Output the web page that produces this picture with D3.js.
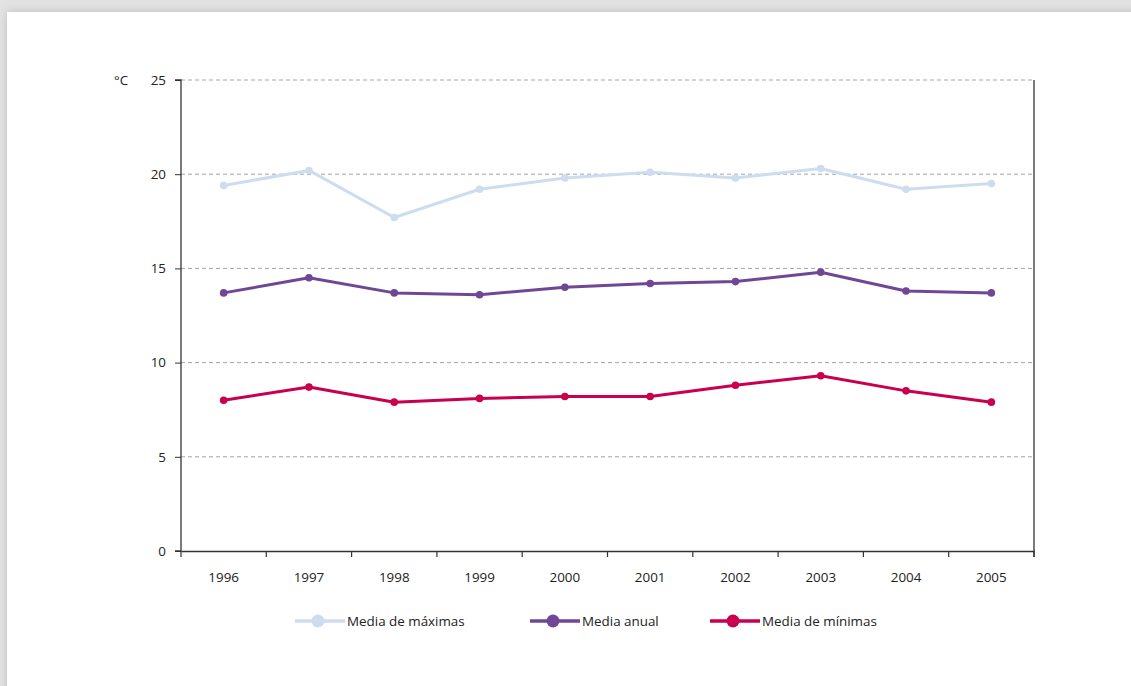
<!DOCTYPE html>
<html><head><meta charset="utf-8">
<script src="https://cdn.jsdelivr.net/npm/d3@7/dist/d3.min.js"></script>
<style>
html,body{margin:0;padding:0;background:#fff;}
svg{display:block;font-family:"Open Sans","Noto Sans",sans-serif;}
</style></head><body>
<svg id="c" width="1131" height="686"></svg>
<script>
const years = ["1996","1997","1998","1999","2000","2001","2002","2003","2004","2005"];
const mediaMaximas = [19.4,20.2,17.7,19.2,19.8,20.1,19.8,20.3,19.2,19.5];
const mediaAnual = [13.7,14.5,13.7,13.6,14.0,14.2,14.3,14.8,13.8,13.7];
const mediaMinimas = [8.0,8.7,7.9,8.1,8.2,8.2,8.8,9.3,8.5,7.9];
const yTicks = [0,5,10,15,20,25];
const seriesNames = ["Media de máximas","Media anual","Media de mínimas"];
const seriesColors = ["#cddcee","#704795","#c8004f"];

const svg = d3.select("#c");
const defs = svg.append("defs");
const f = defs.append("filter").attr("id","sh").attr("x","-5%").attr("y","-5%").attr("width","110%").attr("height","110%");
f.append("feGaussianBlur").attr("stdDeviation",4);
svg.append("rect").attr("width",1131).attr("height",686).attr("fill","#e2e2e2");
svg.append("rect").attr("x",7).attr("y",12).attr("width",1140).attr("height",700).attr("fill","#bdbdbd").attr("filter","url(#sh)");
svg.append("rect").attr("x",7).attr("y",12).attr("width",1140).attr("height",700).attr("fill","#fff");

const L=181, R=1034, T=80, B=551;
const FS = 13.4;
const x = d3.scaleBand().domain(years).range([L,R]);
const y = d3.scaleLinear().domain([0,25]).range([B,T]);

// grid
svg.append("g").selectAll("line").data(yTicks.filter(d=>d>0)).join("line")
  .attr("x1",L).attr("x2",R).attr("y1",d=>y(d)).attr("y2",d=>y(d))
  .attr("stroke","#a6a6a6").attr("stroke-dasharray","4,3").attr("stroke-width",1);

// y axis
const ya = svg.append("g").attr("transform",`translate(${L},0)`)
  .call(d3.axisLeft(y).tickValues(yTicks).tickSize(6).tickPadding(9));
ya.select(".domain").attr("stroke","#333").attr("stroke-width",1.3).attr("d",`M-6,${B}H0V${T}H-6`);
ya.selectAll(".tick line").attr("stroke","#333");
ya.selectAll("text").attr("font-size",FS).attr("fill","#222").attr("font-family","Open Sans, Noto Sans, sans-serif");

// right line
svg.append("line").attr("x1",R).attr("x2",R).attr("y1",T).attr("y2",B+6).attr("stroke","#333").attr("stroke-width",1.3);

// x axis
const xa = svg.append("g").attr("transform",`translate(0,${B})`)
  .call(d3.axisBottom(x).tickSize(0).tickPadding(21));
xa.select(".domain").attr("stroke","#333").attr("stroke-width",1.3);
xa.selectAll("text").attr("font-size",FS).attr("fill","#222").attr("font-family","Open Sans, Noto Sans, sans-serif");
xa.selectAll("line.bt").data(years.map(d=>x(d)).concat([R])).join("line").attr("class","bt")
  .attr("x1",d=>d).attr("x2",d=>d).attr("y1",0).attr("y2",6).attr("stroke","#333").attr("stroke-width",1.2);

svg.append("text").attr("x",114).attr("y",y(25)+5).attr("font-size",FS).attr("fill","#222").text("°C");

const data = [mediaMaximas, mediaAnual, mediaMinimas];
const line = d3.line().x((d,i)=>x(years[i])+x.bandwidth()/2).y(d=>y(d));
data.forEach((vals,k)=>{
  const g = svg.append("g");
  g.append("path").datum(vals).attr("d",line).attr("fill","none").attr("stroke",seriesColors[k]).attr("stroke-width",3).attr("stroke-linejoin","round");
  g.selectAll("circle").data(vals).join("circle")
    .attr("cx",(d,i)=>x(years[i])+x.bandwidth()/2).attr("cy",d=>y(d)).attr("r",3.8).attr("fill",seriesColors[k]);
});

// legend
const legX = [295,530,710];
const ly = 621;
seriesNames.forEach((n,k)=>{
  const g = svg.append("g").attr("transform",`translate(${legX[k]},${ly})`);
  g.append("line").attr("x1",0).attr("x2",50).attr("stroke",seriesColors[k]).attr("stroke-width",3.5);
  g.append("circle").attr("cx",23).attr("r",6.5).attr("fill",seriesColors[k]);
  g.append("text").attr("x",52).attr("y",5).attr("font-size",FS).attr("fill","#222").text(n);
});
</script></body></html>
